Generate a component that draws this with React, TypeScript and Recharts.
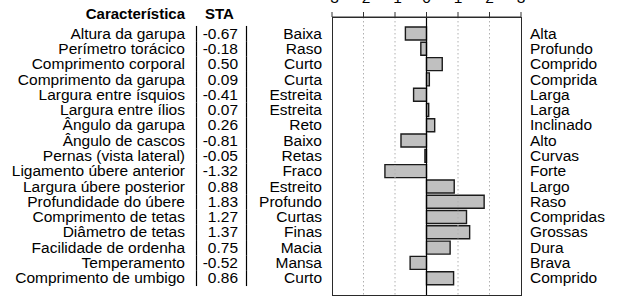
import { Bar, BarChart, ReferenceLine, XAxis, YAxis } from 'recharts'

const characteristics = [
  'Altura da garupa',
  'Perímetro torácico',
  'Comprimento corporal',
  'Comprimento da garupa',
  'Largura entre ísquios',
  'Largura entre ílios',
  'Ângulo da garupa',
  'Ângulo de cascos',
  'Pernas (vista lateral)',
  'Ligamento úbere anterior',
  'Largura úbere posterior',
  'Profundidade do úbere',
  'Comprimento de tetas',
  'Diâmetro de tetas',
  'Facilidade de ordenha',
  'Temperamento',
  'Comprimento de umbigo',
]

const staValues = [
  -0.67, -0.18, 0.5, 0.09, -0.41, 0.07, 0.26, -0.81, -0.05, -1.32, 0.88, 1.83,
  1.27, 1.37, 0.75, -0.52, 0.86,
]

const lowLabels = [
  'Baixa', 'Raso', 'Curto', 'Curta', 'Estreita', 'Estreita', 'Reto', 'Baixo',
  'Retas', 'Fraco', 'Estreito', 'Profundo', 'Curtas', 'Finas', 'Macia', 'Mansa',
  'Curto',
]

const highLabels = [
  'Alta', 'Profundo', 'Comprido', 'Comprida', 'Larga', 'Larga', 'Inclinado',
  'Alto', 'Curvas', 'Forte', 'Largo', 'Raso', 'Compridas', 'Grossas', 'Dura',
  'Brava', 'Comprido',
]

const xTicks = [-3, -2, -1, 0, 1, 2, 3]
const gridValues = [-2, -1, 1, 2]

const data = characteristics.map((name, i) => ({
  name,
  sta: staValues[i],
  low: lowLabels[i],
  high: highLabels[i],
}))

const FONT = '"Liberation Sans", Arial, sans-serif'
const FS = 15.5

// desenha as três colunas de texto à esquerda + separadores
function LeftTick(props: any) {
  const { x, y, payload } = props
  const i = payload.index
  const row = data[i]
  const half = 7.7
  return (
    <g fontFamily={FONT} fontSize={FS} fill="#000">
      {i === 0 && (
        <g fontWeight="bold" fontSize={15}>
          <text x={x - 139} y={y - 15} textAnchor="end">
            Característica
          </text>
          <text x={x - 119} y={y - 15} textAnchor="start">
            STA
          </text>
        </g>
      )}
      <text x={x - 139} y={y + 5} textAnchor="end">
        {row.name}
      </text>
      <line x1={x - 127.5} x2={x - 127.5} y1={y - half} y2={y + half} stroke="#000" strokeWidth={1.2} />
      <text x={x - 86} y={y + 5} textAnchor="end">
        {row.sta.toFixed(2)}
      </text>
      <line x1={x - 77.5} x2={x - 77.5} y1={y - half} y2={y + half} stroke="#000" strokeWidth={1.2} />
      <text x={x - 2} y={y + 5} textAnchor="end">
        {row.low}
      </text>
    </g>
  )
}

function RightTick(props: any) {
  const { x, y, payload } = props
  return (
    <text x={x + 1} y={y + 5} textAnchor="start" fontFamily={FONT} fontSize={FS} fill="#000">
      {data[payload.index].high}
    </text>
  )
}

function TopTick(props: any) {
  const { x, y, payload } = props
  return (
    <text x={x} y={y} textAnchor="middle" fontFamily={FONT} fontSize={FS} fill="#000">
      {payload.value}
    </text>
  )
}

export default function App() {
  return (
    <div style={{ position: 'absolute', left: 0, top: 0, width: 618, height: 297, background: '#fff' }}>
      <BarChart
        width={618}
        height={297}
        data={data}
        layout="vertical"
        margin={{ top: 0, right: 0, bottom: 2, left: 0 }}
        barSize={13}
      >
        <XAxis
          type="number"
          orientation="top"
          domain={[-3, 3]}
          ticks={xTicks}
          height={17}
          tickSize={5}
          tickMargin={9}
          axisLine={{ stroke: '#333', strokeWidth: 1.2 }}
          tickLine={{ stroke: '#333' }}
          tick={<TopTick />}
          interval={0}
        />
        <YAxis
          type="category"
          dataKey="name"
          width={332}
          padding={{ top: 9, bottom: 9 }}
          axisLine={false}
          tickLine={false}
          interval={0}
          tick={<LeftTick />}
        />
        <YAxis
          yAxisId="right"
          type="category"
          dataKey="name"
          orientation="right"
          width={97}
          padding={{ top: 9, bottom: 9 }}
          axisLine={false}
          tickLine={false}
          interval={0}
          tick={<RightTick />}
        />
        {gridValues.map((v) => (
          <ReferenceLine key={v} x={v} stroke="#b0b0b0" strokeDasharray="1.5 2.5" />
        ))}
        <Bar dataKey="sta" fill="#c0c0c0" stroke="#1a1a1a" strokeWidth={1.4} isAnimationActive={false} />
        <ReferenceLine x={0} stroke="#000" strokeWidth={1.2} />
      </BarChart>
      {/* moldura do painel */}
      <div
        style={{
          position: 'absolute',
          left: 332,
          top: 17,
          width: 190,
          height: 279,
          border: '1px solid #2a2a2a',
          boxSizing: 'border-box',
          pointerEvents: 'none',
        }}
      />
    </div>
  )
}
